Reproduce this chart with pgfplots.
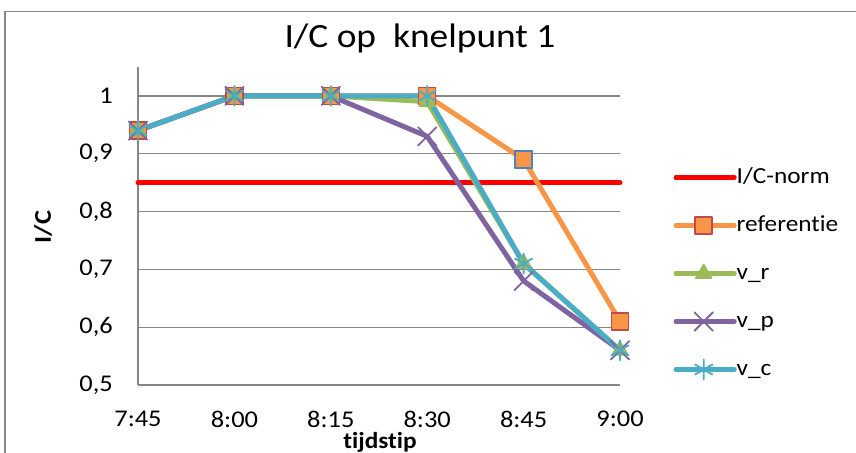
\documentclass[border=0pt]{standalone}
\usepackage{fontspec}
\setmainfont{Carlito}[FakeStretch=1.1, Ligatures=NoCommon]
\usepackage{pgfplots}
\pgfplotsset{compat=1.18}
\definecolor{cnorm}{HTML}{FF0000}
\definecolor{cref}{HTML}{F79646}
\definecolor{crefedge}{HTML}{BE4B48}
\definecolor{cblue}{HTML}{4F81BD}
\definecolor{cvr}{HTML}{9BBB59}
\definecolor{cvp}{HTML}{8064A2}
\definecolor{cvc}{HTML}{4BACC6}
\definecolor{cgrid}{HTML}{868686}
\begin{document}
\begin{tikzpicture}[x=1bp,y=1bp]
\useasboundingbox (0,0) rectangle (856,453);
\fill[white] (0,0) rectangle (856,453);
\draw[cgrid, line width=1.3bp] (5,-2) rectangle (858,441.3);
\node[anchor=base, font=\fontsize{34bp}{40bp}\selectfont] at (420,405) {I/C op\ \ knelpunt 1};
\node[rotate=90, font=\fontsize{24bp}{28bp}\selectfont\bfseries] at (43,226) {I/C};
\node[anchor=base, font=\fontsize{23bp}{28bp}\selectfont\bfseries] at (380,4) {tijdstip};
\begin{axis}[
 at={(138bp,68bp)}, anchor=south west,
 scale only axis, width=482bp, height=318bp,
 xmin=0, xmax=5, ymin=0.5, ymax=1.05,
 xtick={0,1,2,3,4,5}, xticklabels={7:45,8:00,8:15,8:30,8:45,9:00},
 ytick={0.5,0.6,0.7,0.8,0.9,1},
 yticklabels={{0,5},{0,6},{0,7},{0,8},{0,9},1},
 axis x line=bottom, axis y line=left,
 axis line style={cgrid, line width=1.3bp, -},
 major tick length=0pt,
 ymajorgrids, grid style={cgrid, line width=1.3bp},
 tick label style={font=\fontsize{24bp}{28bp}\selectfont, inner sep=0pt},
 xticklabel style={yshift=-26bp},
 yticklabel style={xshift=-25bp},
 clip=false,
 legend image code/.code={
   \path (0bp,0bp) -- (58bp,0bp);
   \draw[mark repeat=2,mark phase=2] plot coordinates {(0bp,0bp) (27.5bp,0bp) (55bp,0bp)};},
 legend style={draw=none, fill=none, at={(1.111,0.686)}, anchor=north west,
   inner sep=0pt, row sep=27bp, font=\fontsize{23bp}{27bp}\selectfont,
   nodes={inner sep=0pt, text height=16bp, text depth=5bp}},
 legend cell align=left,
 every axis plot/.append style={line width=5bp, line cap=round, line join=round},
]
\addplot[cnorm, line width=5bp] coordinates {(0,0.85) (1,0.85) (2,0.85) (3,0.85) (4,0.85) (5,0.85)};
\addlegendentry{I/C-norm}
\addplot[cref, mark=square*, mark size=8.5bp, mark options={fill=cref, draw=crefedge, line width=1.5bp}]
 coordinates {(0,0.94) (1,1) (2,1) (3,1) (4,0.89) (5,0.61)};
\addlegendentry{referentie}
\addplot[cvr, mark=triangle*, mark size=9.5bp, mark options={fill=cvr, draw=cvr, line width=1bp}]
 coordinates {(0,0.94) (1,1) (2,1) (3,0.99) (4,0.71) (5,0.56)};
\addlegendentry{v\_r}
\addplot[cvp, mark=x, mark size=13bp, mark options={draw=cvp, line width=1.8bp}]
 coordinates {(0,0.94) (1,1) (2,1) (3,0.93) (4,0.68) (5,0.56)};
\addlegendentry{v\_p}
\addplot[cvc, mark=asterisk, mark size=10bp, mark options={draw=cvc, line width=1.8bp}]
 coordinates {(0,0.94) (1,1) (2,1) (3,1) (4,0.71) (5,0.56)};
\addlegendentry{v\_c}
\addplot[only marks, forget plot, mark=square*, mark size=8.5bp, mark options={fill=cref, draw=cblue, line width=1.5bp}]
 coordinates {(4,0.89)};
\end{axis}
\end{tikzpicture}
\end{document}
